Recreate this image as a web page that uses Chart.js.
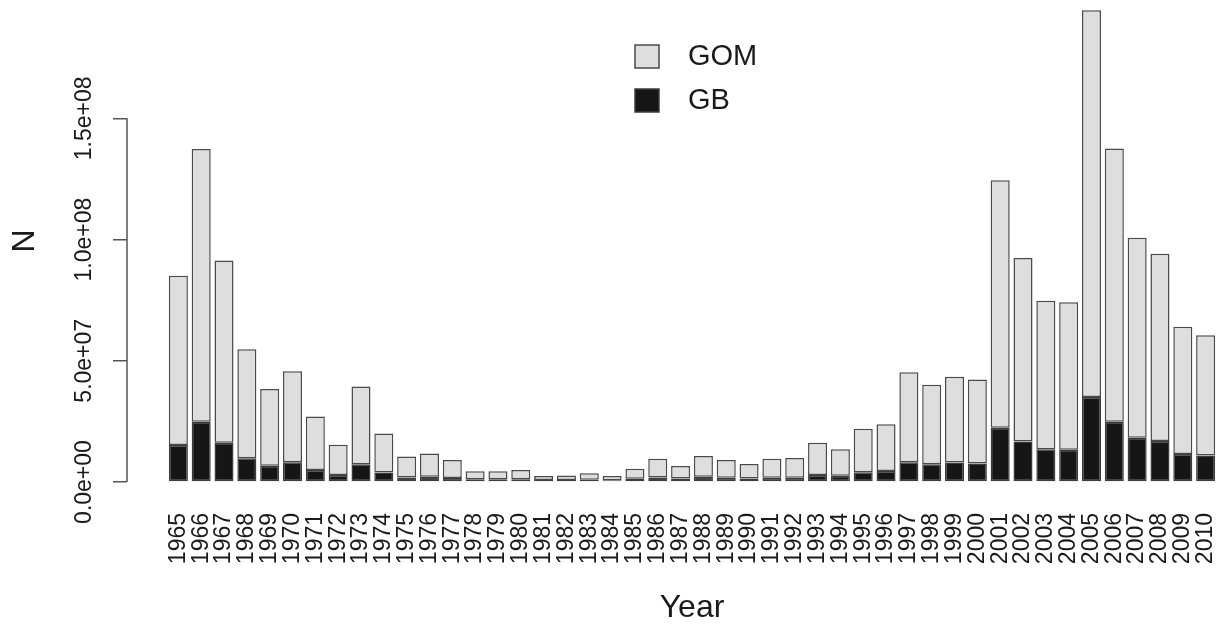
<!DOCTYPE html>
<html>
<head>
<meta charset="utf-8">
<title>N by Year - GOM / GB</title>
<script src="https://cdn.jsdelivr.net/npm/chart.js@4.4.1/dist/chart.umd.min.js"></script>
<style>
  html, body { margin: 0; padding: 0; background: #fff; overflow: hidden; }
  canvas { display: block; }
</style>
</head>
<body>
<!-- a área de plotagem do R passa um pouco da borda direita da imagem, por isso o canvas é mais largo que a janela -->
<canvas id="grafico" width="1257" height="629"></canvas>
<script>
const years = [1965, 1966, 1967, 1968, 1969, 1970, 1971, 1972, 1973, 1974,
  1975, 1976, 1977, 1978, 1979, 1980, 1981, 1982, 1983, 1984,
  1985, 1986, 1987, 1988, 1989, 1990, 1991, 1992, 1993, 1994,
  1995, 1996, 1997, 1998, 1999, 2000, 2001, 2002, 2003, 2004,
  2005, 2006, 2007, 2008, 2009, 2010];

// GB (barra preta, embaixo)
const gb = [15.3e6, 24.8e6, 16.2e6, 9.8e6, 6.7e6, 8.1e6, 5.0e6, 2.9e6, 7.3e6, 3.9e6,
  1.9e6, 2.2e6, 1.7e6, 1.1e6, 1.1e6, 1.1e6, 0.8e6, 0.8e6, 0.9e6, 0.7e6,
  1.3e6, 1.9e6, 1.4e6, 2.2e6, 1.8e6, 1.4e6, 1.8e6, 1.8e6, 2.9e6, 2.6e6,
  4.0e6, 4.5e6, 8.1e6, 7.3e6, 8.0e6, 7.6e6, 22.4e6, 16.7e6, 13.5e6, 13.3e6,
  35.1e6, 24.9e6, 18.2e6, 16.9e6, 11.6e6, 10.9e6];

// GOM (barra cinza, em cima)
const gom = [69.8e6, 112.5e6, 75.2e6, 45.0e6, 31.7e6, 37.6e6, 22.0e6, 12.5e6, 32.1e6, 16.1e6,
  8.6e6, 9.6e6, 7.4e6, 3.3e6, 3.3e6, 3.9e6, 1.7e6, 1.9e6, 2.7e6, 1.8e6,
  4.2e6, 7.7e6, 5.2e6, 8.5e6, 7.3e6, 6.0e6, 7.8e6, 8.1e6, 13.3e6, 10.9e6,
  18.0e6, 19.3e6, 37.2e6, 32.8e6, 35.4e6, 34.7e6, 102.1e6, 75.7e6, 61.3e6, 60.8e6,
  159.5e6, 112.6e6, 82.5e6, 77.2e6, 52.4e6, 49.6e6];

const yTicks = [0, 5e7, 1e8, 1.5e8];
const yTickLabels = ['0.0e+00', '5.0e+07', '1.0e+08', '1.5e+08'];

const fonte = '"Liberation Sans", Arial, Helvetica, sans-serif';
const corTexto = '#1a1a1a';
const corEixo = '#555';

// legenda no estilo do R (sem moldura), no topo da área do gráfico
const legendaR = {
  id: 'legendaR',
  afterDraw(chart) {
    const { ctx, chartArea } = chart;
    const cx = (chartArea.left + chartArea.right) / 2;
    const itens = [chart.data.datasets[1], chart.data.datasets[0]];
    ctx.save();
    ctx.font = `29px ${fonte}`;
    ctx.textBaseline = 'middle';
    itens.forEach((ds, i) => {
      const y = chartArea.top + 56 + i * 44;
      ctx.fillStyle = ds.backgroundColor;
      ctx.fillRect(cx - 57, y - 11, 24, 23);
      ctx.strokeStyle = ds.borderColor;
      ctx.lineWidth = 1.5;
      ctx.strokeRect(cx - 57, y - 11, 24, 23);
      ctx.fillStyle = corTexto;
      ctx.fillText(ds.label, cx - 4, y + 1);
    });
    ctx.restore();
  }
};

// eixo y só do primeiro ao último tick (como no R)
const eixoY = {
  id: 'eixoY',
  afterDraw(chart) {
    const s = chart.scales.y;
    const { ctx } = chart;
    ctx.save();
    ctx.strokeStyle = corEixo;
    ctx.lineWidth = 1.5;
    ctx.beginPath();
    ctx.moveTo(s.right, s.getPixelForValue(yTicks[0]));
    ctx.lineTo(s.right, s.getPixelForValue(yTicks[yTicks.length - 1]));
    ctx.stroke();
    ctx.restore();
  }
};

new Chart(document.getElementById('grafico'), {
  type: 'bar',
  data: {
    datasets: [
      {
        label: 'GB',
        data: gb.map((v, i) => ({ x: years[i], y: v })),
        backgroundColor: '#161616',
        borderColor: '#3c3c3c',
        borderWidth: 1.5,
        borderSkipped: false,
        categoryPercentage: 1,
        barPercentage: 0.8333,
      },
      {
        label: 'GOM',
        data: gom.map((v, i) => ({ x: years[i], y: v })),
        backgroundColor: '#dedede',
        borderColor: '#4a4a4a',
        borderWidth: 1.5,
        borderSkipped: false,
        categoryPercentage: 1,
        barPercentage: 0.8333,
      },
    ],
  },
  options: {
    responsive: false,
    animation: false,
    layout: { padding: 0 },
    plugins: {
      legend: { display: false },
      tooltip: { enabled: false },
    },
    scales: {
      x: {
        type: 'linear',
        stacked: true,
        offset: false,
        min: 1962.75,
        max: 2012.25,
        afterBuildTicks: (s) => { s.ticks = years.map((v) => ({ value: v })); },
        afterFit: (s) => { s.height = 147; },
        // marcas invisíveis só para afastar os rótulos das barras (sem x axis no R)
        grid: { display: true, drawOnChartArea: false, drawTicks: true, tickLength: 31, color: 'rgba(0,0,0,0)', offset: false },
        border: { display: false },
        ticks: {
          autoSkip: false,
          minRotation: 90,
          maxRotation: 90,
          padding: 0,
          color: corTexto,
          font: { family: fonte, size: 23 },
          callback: (v) => String(v),
        },
        title: {
          display: true,
          text: 'Year',
          color: corTexto,
          font: { family: fonte, size: 32 },
          padding: { top: 0, bottom: 2 },
        },
      },
      y: {
        stacked: true,
        min: 0,
        max: 1.988e8,
        afterBuildTicks: (s) => { s.ticks = yTicks.map((v) => ({ value: v })); },
        afterFit: (s) => { s.width = 127; },
        grid: { drawOnChartArea: false, drawTicks: true, tickLength: 14, color: corEixo, lineWidth: 1.5 },
        border: { display: false },
        ticks: {
          minRotation: 90,
          maxRotation: 90,
          crossAlign: 'center',
          padding: -14,
          color: corTexto,
          font: { family: fonte, size: 23 },
          callback: (v, i) => yTickLabels[i],
        },
        title: {
          display: true,
          text: 'N',
          color: corTexto,
          font: { family: fonte, size: 32 },
          padding: { top: 6, bottom: 0 },
        },
      },
    },
  },
  plugins: [eixoY, legendaR],
});
</script>
</body>
</html>
